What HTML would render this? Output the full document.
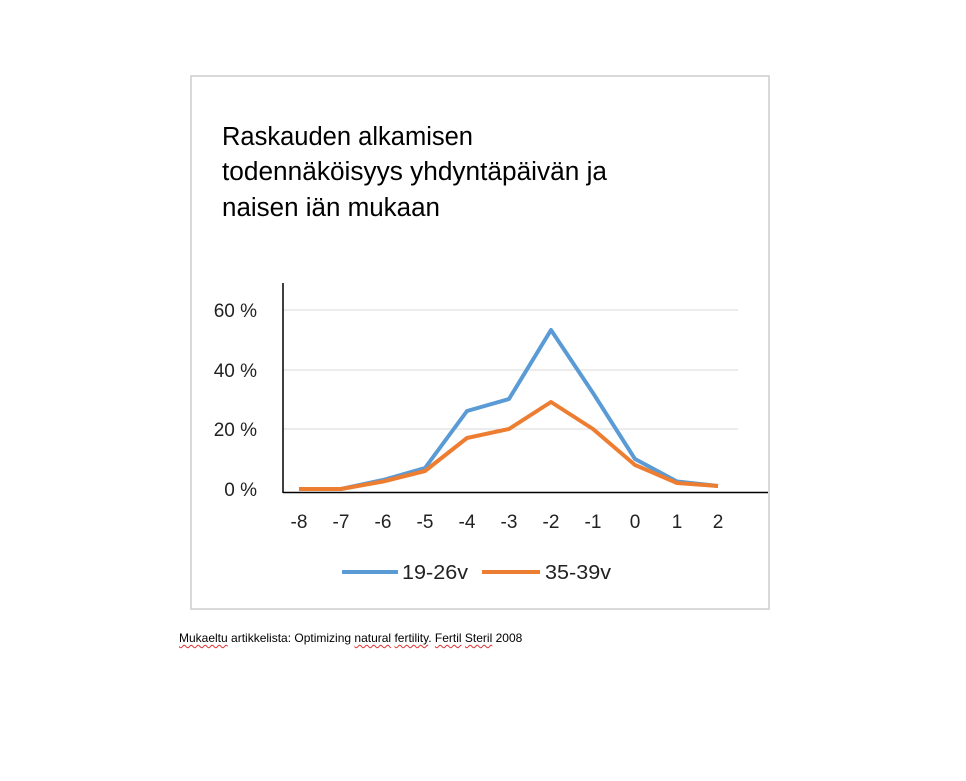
<!DOCTYPE html>
<html><head><meta charset="utf-8"><style>
body{margin:0;background:#fff;width:966px;height:781px;overflow:hidden;font-family:"Liberation Sans",sans-serif;}
.u{text-decoration:underline wavy #e03030;text-decoration-thickness:1px;text-underline-offset:2px}
</style></head><body>
<svg width="966" height="781" style="position:absolute;left:0;top:0" font-family="Liberation Sans, sans-serif">
<rect x="191" y="76" width="578" height="533" fill="#fff" stroke="#d9d9d9" stroke-width="2"/>
<g font-size="25.5" fill="#000">
<text x="222" y="145" textLength="251" lengthAdjust="spacingAndGlyphs">Raskauden alkamisen</text>
<text x="222" y="180" textLength="385" lengthAdjust="spacingAndGlyphs">todennäköisyys yhdyntäpäivän ja</text>
<text x="222" y="216" textLength="218" lengthAdjust="spacingAndGlyphs">naisen iän mukaan</text>
</g>
<g stroke="#d9d9d9" stroke-width="1">
<line x1="283" y1="310" x2="738" y2="310"/>
<line x1="283" y1="370" x2="738" y2="370"/>
<line x1="283" y1="429" x2="738" y2="429"/>
</g>
<line x1="283" y1="283" x2="283" y2="493" stroke="#000" stroke-width="1.5"/>
<line x1="283" y1="492.5" x2="768" y2="492.5" stroke="#000" stroke-width="1.5"/>
<g font-size="19" fill="#222" text-anchor="end">
<text x="257" y="317">60 %</text>
<text x="257" y="377">40 %</text>
<text x="257" y="436">20 %</text>
<text x="257" y="496">0 %</text>
</g>
<g font-size="19" fill="#222" text-anchor="middle">
<text x="299" y="528">-8</text><text x="341" y="528">-7</text><text x="383" y="528">-6</text>
<text x="425" y="528">-5</text><text x="467" y="528">-4</text><text x="509" y="528">-3</text>
<text x="551" y="528">-2</text><text x="593" y="528">-1</text><text x="635" y="528">0</text>
<text x="677" y="528">1</text><text x="718" y="528">2</text>
</g>
<polyline fill="none" stroke="#5b9bd5" stroke-width="4" stroke-linejoin="round" points="299,489 341,489 383,480 425,468 467,411 509,399 551,330 593,393 635,459 677,481.5 718,486"/>
<polyline fill="none" stroke="#ed7d31" stroke-width="4" stroke-linejoin="round" points="299,489 341,489 383,481.5 425,471 467,438 509,429 551,402 593,429 635,465 677,483 718,486"/>
<line x1="342" y1="572" x2="398" y2="572" stroke="#5b9bd5" stroke-width="4"/>
<text x="402" y="579" font-size="20" fill="#222" textLength="66" lengthAdjust="spacingAndGlyphs">19-26v</text>
<line x1="482" y1="572" x2="540" y2="572" stroke="#ed7d31" stroke-width="4"/>
<text x="545" y="579" font-size="20" fill="#222" textLength="66" lengthAdjust="spacingAndGlyphs">35-39v</text>
</svg>
<div style="position:absolute;left:179px;top:631px;font-size:12px;color:#000;white-space:nowrap"><span class="u">Mukaeltu</span> artikkelista: Optimizing <span class="u">natural</span> <span class="u">fertility</span>. <span class="u">Fertil</span> <span class="u">Steril</span> 2008</div>
</body></html>
